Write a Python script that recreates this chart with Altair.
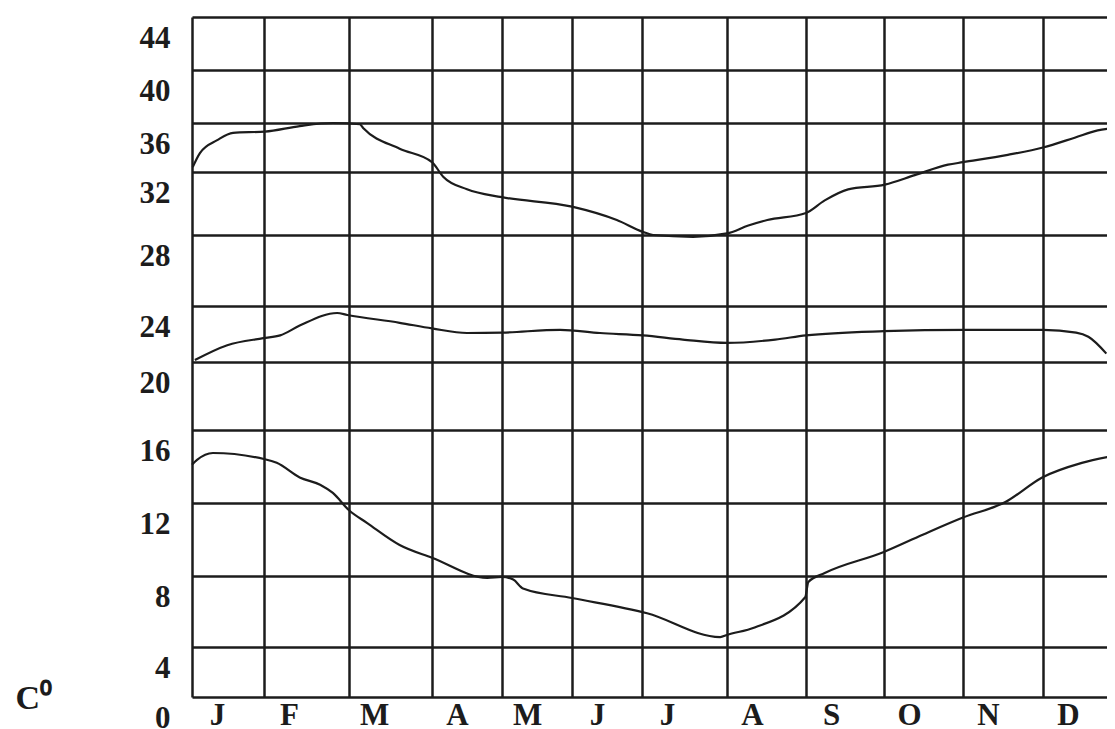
import altair as alt
import pandas as pd

# ---- labels -------------------------------------------------------------
months = ["J", "F", "M", "A", "M", "J", "J", "A", "S", "O", "N", "D"]
y_ticks = [0, 4, 8, 12, 16, 20, 24, 28, 32, 36, 40, 44]

# ---- curves (x = month position, 0..12; t = °C) ----
max_x = [0.01, 0.11, 0.35, 0.57, 1.01, 1.42, 1.81, 2.13, 2.17, 2.61, 3.0, 3.16,
         3.5, 4.0, 5.0, 5.64, 6.01, 6.13, 6.6, 7.0, 7.27, 7.51, 8.0, 8.24, 8.54,
         9.01, 9.39, 9.81, 10.0, 10.56, 11.0, 11.44, 11.76, 12.0]
max_t = [32.4, 33.55, 34.6, 35.2, 35.3, 35.75, 36.0, 35.9, 35.6, 33.9, 32.8, 31.7,
         30.9, 30.4, 29.8, 28.95, 28.2, 28.0, 27.9, 28.1, 28.6, 28.95, 29.4, 30.2, 30.9,
         31.2, 31.8, 32.6, 32.8, 33.4, 34.0, 34.8, 35.4, 35.6]

mid_x = [0.04, 0.49, 0.99, 1.19, 1.42, 1.86, 1.98, 2.61, 3.0, 3.5, 4.0, 4.83,
         5.4, 6.01, 6.48, 7.0, 7.61, 8.0, 9.0, 10.03, 11.0, 11.46, 11.63, 11.88]
mid_t = [20.14, 21.2, 21.7, 21.9, 22.6, 23.5, 23.36, 22.8, 22.4, 22.07, 22.1, 22.3,
         22.07, 21.9, 21.6, 21.36, 21.6, 21.9, 22.2, 22.3, 22.3, 22.1, 21.8, 20.6]

min_x = [0.0, 0.07, 0.29, 1.01, 1.15, 1.42, 1.66, 1.81, 2.0, 2.22, 2.61, 3.0,
         3.79, 4.0, 4.16, 4.3, 5.0, 6.06, 6.92, 7.0, 7.35, 7.99, 8.03, 8.24, 8.99,
         9.49, 10.0, 10.53, 10.99, 11.54, 12.0]
min_t = [14.1, 14.36, 14.74, 14.4, 14.2, 13.4, 13.0, 12.55, 11.6, 10.9, 9.7, 9.0,
         7.9, 7.95, 7.8, 7.3, 6.76, 5.9, 4.56, 4.68, 5.1, 6.8, 7.66, 8.16, 9.3,
         10.26, 11.2, 12.05, 13.4, 14.2, 14.6]

rows = []
for name, xs, ts in [("max", max_x, max_t), ("mean", mid_x, mid_t), ("min", min_x, min_t)]:
    for x, t in zip(xs, ts):
        rows.append({"series": name, "m": x, "t": t})
df = pd.DataFrame(rows)

# ---- the hand-drawn, irregular grid of the original (pixel stops) --------
x_stops = list(range(13))
x_range = [0, 72, 157, 240, 310, 380, 450, 535, 614, 692, 771, 851, 923]
y_range = [680, 630, 559, 486, 413, 345, 289, 218, 155, 106, 53, 0]

FONT = "Liberation Serif"
INK = "#1c1c1c"

label_expr = "[" + ",".join("'%s'" % m for m in months) + ",''][datum.value]"

chart = alt.Chart(df).mark_line(
    color=INK, strokeWidth=2.2, interpolate="monotone"
).encode(
    x=alt.X(
        "m:Q",
        scale=alt.Scale(domain=x_stops, range=x_range, nice=False, zero=False),
        axis=alt.Axis(
            values=x_stops, grid=True, ticks=False, tickSize=0, domain=False,
            labelExpr=label_expr, labelOffset=25, labelPadding=3,
            labelFlush=False, labelOverlap=False, labelAlign="center",
            labelFont=FONT, labelFontWeight="bold", labelFontSize=31, labelColor=INK,
            gridColor=INK, gridWidth=2.5, gridOpacity=1, title=None,
        ),
    ),
    y=alt.Y(
        "t:Q",
        scale=alt.Scale(domain=y_ticks, range=y_range, nice=False, zero=False),
        axis=alt.Axis(
            values=y_ticks, grid=True, ticks=False, tickSize=0, domain=False,
            labelOffset=21, labelPadding=22, labelBaseline="middle",
            labelFlush=False, labelOverlap=False,
            labelFont=FONT, labelFontWeight="bold", labelFontSize=31, labelColor=INK,
            gridColor=INK, gridWidth=2.5, gridOpacity=1,
            title="C⁰", titleAngle=0, titleX=-177, titleY=691,
            titleAlign="left", titleBaseline="alphabetic",
            titleFont=FONT, titleFontSize=34, titleFontWeight="bold", titleColor=INK,
        ),
    ),
    detail="series:N",
).properties(
    width=915,
    height=680,
    autosize=alt.AutoSizeParams(type="none"),
    padding={"left": 184, "top": 9, "right": 0, "bottom": 40},
).configure_view(strokeWidth=0).configure(background="white")

chart.save("out.html", embed_options={"renderer": "svg", "actions": False})
